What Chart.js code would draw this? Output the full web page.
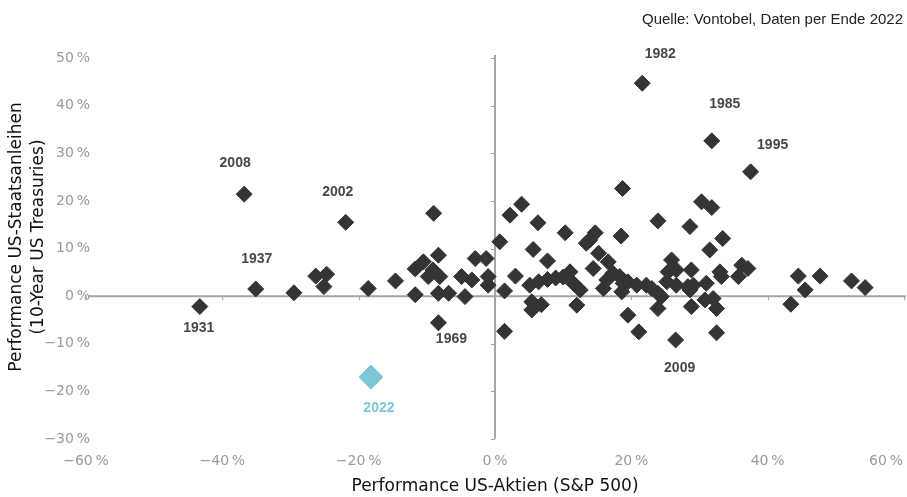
<!DOCTYPE html>
<html>
<head>
<meta charset="utf-8">
<script src="https://cdn.jsdelivr.net/npm/chart.js@4"></script>
<style>
  html, body { margin: 0; padding: 0; background: #fff; }
  #wrap { width: 907px; height: 497px; }
</style>
</head>
<body>
<div id="wrap"><canvas id="chart" width="907" height="497"></canvas></div>
<script>
// S&P 500 performance (x) and 10y treasury performance (y), in %
const stockPerf = [
  -36.8, -21.9, -35.1, -43.3, -29.5, -26.3, -24.7, -25.1, -18.6, -14.6,
  -11.7, -11.7, -9.0, -10.5, -8.3, -9.1, -8.1, -9.8, -8.3, -6.8,
  -8.3, -4.4, -4.9, -3.4, -2.9, -1.3, -1.0, -1.0, 0.7, 1.4,
  1.4, 2.2, 3.9, 6.3, 5.6, 7.7, 3.0, 5.1, 6.4, 7.7,
  8.9, 10.0, 5.4, 5.4, 6.8, 10.3, 14.7, 13.9, 13.4, 18.7,
  18.5, 15.2, 16.6, 14.4, 11.0, 11.5, 12.5, 15.9, 16.4, 17.3,
  18.3, 18.8, 18.6, 19.5, 20.8, 22.2, 23.0, 23.9, 12.0, 19.5,
  21.1, 26.5, 23.9, 25.9, 25.4, 26.6, 28.8, 25.2, 26.6, 28.3,
  29.1, 28.8, 24.4, 23.9, 28.6, 30.3, 31.8, 37.5, 33.4, 31.5,
  33.0, 33.2, 36.2, 37.1, 35.7, 31.0, 28.6, 30.8, 32.0, 32.5,
  32.5, 44.5, 47.7, 45.5, 43.4, 52.3, 54.3, 21.6, 31.8
];
const bondPerf = [
  21.4, 15.5, 1.5, -2.2, 0.7, 4.2, 4.6, 2.0, 1.6, 3.2,
  5.7, 0.3, 17.4, 7.2, 8.6, 5.5, 4.1, 4.1, 0.6, 0.6,
  -5.6, -0.1, 4.1, 3.4, 7.9, 7.9, 4.1, 2.3, 11.4, 1.1,
  -7.4, 17.0, 19.3, 15.4, 9.8, 7.4, 4.2, 2.3, 3.0, 3.5,
  3.8, 4.0, -1.2, -2.9, -1.8, 13.3, 13.3, 11.8, 11.1, 22.6,
  12.6, 9.0, 7.2, 5.8, 5.1, 2.7, 1.3, 1.6, 3.4, 4.8,
  4.1, 2.7, 0.9, 3.0, 2.3, 2.3, 1.6, 0.6, -1.9, -4.0,
  -7.5, -9.2, -2.6, 7.6, 5.1, 5.5, 5.5, 3.0, 2.3, 2.0,
  2.3, -2.2, -0.1, 15.8, 14.6, 19.8, 18.6, 26.1, 12.1, 9.7,
  5.1, 4.1, 6.5, 5.8, 4.1, 2.7, 1.3, -0.8, -0.5, -2.6,
  -7.7, 4.2, 4.2, 1.3, -1.7, 3.2, 1.8, 44.7, 32.6
];
const stock2022 = [-18.2];
const bond2022 = [-17.0];

// annotated years
const labelYears = ['2008', '2002', '1937', '1931', '1969', '1982', '1985', '1995', '2009', '2022'];
const labelStock = [-36.8, -21.9, -35.1, -43.3, -8.3, 21.6, 31.8, 37.5, 26.5, -18.2];
const labelBond  = [21.4, 15.5, 1.5, -2.2, -5.6, 44.7, 32.6, 26.1, -9.2, -17.0];

const xTickValues = [-60, -40, -20, 0, 20, 40, 60];
const yTickValues = [-30, -20, -10, 0, 10, 20, 30, 40, 50];

const xTitle = 'Performance US-Aktien (S&P 500)';
const yTitle = ['Performance US-Staatsanleihen', '(10-Year US Treasuries)'];
const sourceNote = 'Quelle: Vontobel, Daten per Ende 2022';

function pct(v) {
  return (v < 0 ? '\u2212' + Math.abs(v) : String(v)) + '\u2009%';
}

// label offsets in px relative to the point
const labelOffsets = {
  '2008': [-9, -31], '2002': [-8, -30], '1937': [1, -30], '1931': [-1, 22],
  '1969': [13, 16], '1982': [18, -29], '1985': [13, -37], '1995': [22, -27],
  '2009': [4, 28], '2022': [8, 31]
};

const axesPlugin = {
  id: 'crossAxes',
  beforeDatasetsDraw(chart) {
    const ctx = chart.ctx;
    const xs = chart.scales.x, ys = chart.scales.y;
    const area = chart.chartArea;
    const x0 = xs.getPixelForValue(0), y0 = ys.getPixelForValue(0);
    ctx.save();
    ctx.strokeStyle = '#a6a6a6';
    ctx.lineWidth = 2;
    ctx.beginPath();
    ctx.moveTo(area.left + 2, y0);
    ctx.lineTo(area.right + 2, y0);
    ctx.moveTo(x0, area.top - 3);
    ctx.lineTo(x0, area.bottom);
    ctx.stroke();
    ctx.lineWidth = 1;
    ctx.beginPath();
    yTickValues.forEach(v => {
      const py = Math.round(ys.getPixelForValue(v)) + 0.5;
      ctx.moveTo(x0 - 4, py);
      ctx.lineTo(x0, py);
    });
    xTickValues.forEach(v => {
      if (v === 0) return;
      const px = Math.round(xs.getPixelForValue(v)) + 0.5;
      ctx.moveTo(px, y0);
      ctx.lineTo(px, y0 + 4);
    });
    ctx.stroke();

    // tick labels
    ctx.fillStyle = '#9a9a9a';
    ctx.font = '14px "DejaVu Sans"';
    ctx.textAlign = 'right';
    ctx.textBaseline = 'middle';
    yTickValues.forEach(v => {
      ctx.fillText(pct(v), 90, ys.getPixelForValue(v));
    });
    ctx.textAlign = 'center';
    xTickValues.forEach(v => {
      let px = xs.getPixelForValue(v);
      if (v === 60) px -= 18;
      ctx.fillText(pct(v), px, 461);
    });

    // titles
    ctx.fillStyle = '#111';
    ctx.font = '17px "DejaVu Sans"';
    ctx.fillText(xTitle, 495, 487);
    ctx.save();
    ctx.translate(17, 237);
    ctx.rotate(-Math.PI / 2);
    ctx.fillText(yTitle[0], 0, 0);
    ctx.fillText(yTitle[1], 0, 22);
    ctx.restore();

    ctx.font = '15px "Liberation Sans"';
    ctx.textAlign = 'right';
    ctx.fillStyle = '#222';
    ctx.fillText(sourceNote, 903, 20);
    ctx.restore();
  },
  afterDatasetsDraw(chart) {
    const ctx = chart.ctx;
    const xs = chart.scales.x, ys = chart.scales.y;
    ctx.save();
    ctx.font = 'bold 14px "Liberation Sans"';
    ctx.textAlign = 'center';
    ctx.textBaseline = 'middle';
    labelYears.forEach((yr, i) => {
      const off = labelOffsets[yr];
      ctx.fillStyle = yr === '2022' ? '#7cc6d8' : '#484848';
      ctx.fillText(yr, xs.getPixelForValue(labelStock[i]) + off[0], ys.getPixelForValue(labelBond[i]) + off[1]);
    });
    ctx.restore();
  }
};

new Chart(document.getElementById('chart'), {
  type: 'scatter',
  data: {
    datasets: [
      {
        label: '1928-2021',
        data: stockPerf.map((x, i) => ({ x: x, y: bondPerf[i] })),
        pointStyle: 'rectRot',
        pointRadius: 8,
        backgroundColor: '#343434',
        borderColor: '#343434',
        borderWidth: 1
      },
      {
        label: '2022',
        data: stock2022.map((x, i) => ({ x: x, y: bond2022[i] })),
        pointStyle: 'rectRot',
        pointRadius: 12,
        backgroundColor: '#7cc6d8',
        borderColor: '#7cc6d8',
        borderWidth: 1
      }
    ]
  },
  options: {
    responsive: false,
    animation: false,
    layout: { autoPadding: false, padding: { left: 86, right: 3, top: 58, bottom: 58 } },
    plugins: { legend: { display: false }, tooltip: { enabled: false } },
    scales: {
      x: { type: 'linear', min: -60, max: 60, display: false },
      y: { type: 'linear', min: -30, max: 50, display: false }
    }
  },
  plugins: [axesPlugin]
});
</script>
</body>
</html>
